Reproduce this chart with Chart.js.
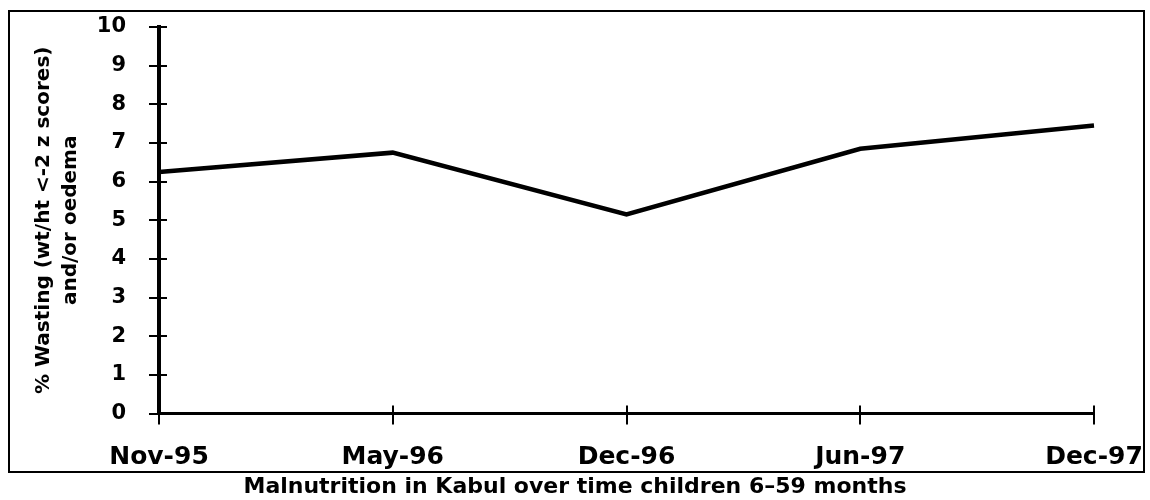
<!DOCTYPE html>
<html>
<head>
<meta charset="utf-8">
<script src="https://cdn.jsdelivr.net/npm/chart.js@4"></script>
<style>
  html, body { margin: 0; padding: 0; background: #fff; }
  #wrap { width: 1150px; height: 500px; }
</style>
</head>
<body>
<div id="wrap"><canvas id="myChart" width="1150" height="500"></canvas></div>
<script>
// values
var surveyDates = ['Nov-95', 'May-96', 'Dec-96', 'Jun-97', 'Dec-97'];
var wastingPct = [6.25, 6.75, 5.15, 6.85, 7.45];
var yTicks = [0, 1, 2, 3, 4, 5, 6, 7, 8, 9, 10];
var yTitle = ['% Wasting (wt/ht <-2 z scores)', 'and/or oedema'];
var chartTitle = 'Malnutrition in Kabul over time children 6\u201359 months';

var bold = 'DejaVu Sans';

// outer frame round the plot (title sits outside it)
var framePlugin = {
    id: 'frame',
    afterDraw: function (chart) {
        var ctx = chart.ctx;
        ctx.save();
        ctx.strokeStyle = '#000';
        ctx.lineWidth = 2;
        ctx.strokeRect(9, 11, 1135, 461);
        ctx.restore();
    }
};

// tick marks that cross the axis lines, like the original
var crossTicks = {
    id: 'crossTicks',
    afterDatasetsDraw: function (chart) {
        var ctx = chart.ctx;
        var x = chart.scales.x, y = chart.scales.y;
        var area = chart.chartArea;
        ctx.save();
        ctx.strokeStyle = '#000';
        ctx.lineWidth = 2;
        ctx.beginPath();
        yTicks.forEach(function (v) {
            var py = Math.round(y.getPixelForValue(v));
            ctx.moveTo(area.left - 10, py);
            ctx.lineTo(area.left + 8, py);
        });
        surveyDates.forEach(function (d, i) {
            var px = Math.round(x.getPixelForValue(i));
            ctx.moveTo(px, area.bottom - 8);
            ctx.lineTo(px, area.bottom + 11);
        });
        ctx.stroke();
        ctx.restore();
    }
};

var ctx = document.getElementById('myChart').getContext('2d');
var myChart = new Chart(ctx, {
    type: 'line',
    data: {
        labels: surveyDates,
        datasets: [{
            label: 'Wasting',
            data: wastingPct,
            borderColor: '#000',
            borderWidth: 4.5,
            pointRadius: 0,
            tension: 0,
            fill: false
        }]
    },
    options: {
        responsive: false,
        animation: false,
        layout: {
            padding: { top: 27, right: 0, bottom: 0, left: 0 }
        },
        scales: {
            x: {
                offset: false,
                grid: { display: false },
                border: { display: true, color: '#000', width: 3 },
                ticks: {
                    color: '#000',
                    padding: 21,
                    maxRotation: 0,
                    autoSkip: false,
                    font: { family: bold, size: 25, weight: 'bold' }
                },
                afterFit: function (scale) {
                    scale.height = 60;
                    scale.paddingLeft = 0;
                    scale.paddingRight = 56; // room right of the last tick
                }
            },
            y: {
                min: 0,
                max: 10,
                grid: { display: false },
                border: { display: true, color: '#000', width: 4 },
                ticks: {
                    stepSize: 1,
                    color: '#000',
                    padding: 25,
                    font: { family: bold, size: 21, weight: 'bold' }
                },
                title: {
                    display: true,
                    text: yTitle,
                    color: '#000',
                    padding: { top: 30, bottom: 0 },
                    font: { family: bold, size: 20, weight: 'bold', lineHeight: 1.35 }
                },
                afterFit: function (scale) {
                    scale.width = 159;
                    scale.paddingTop = 0;
                    scale.paddingBottom = 0;
                }
            }
        },
        plugins: {
            legend: { display: false },
            tooltip: { enabled: false },
            title: {
                display: true,
                position: 'bottom',
                text: chartTitle,
                color: '#000',
                padding: { top: 0, bottom: 0 },
                font: { family: bold, size: 22, weight: 'bold', lineHeight: 1.2 }
            }
        }
    },
    plugins: [framePlugin, crossTicks]
});
</script>
</body>
</html>
